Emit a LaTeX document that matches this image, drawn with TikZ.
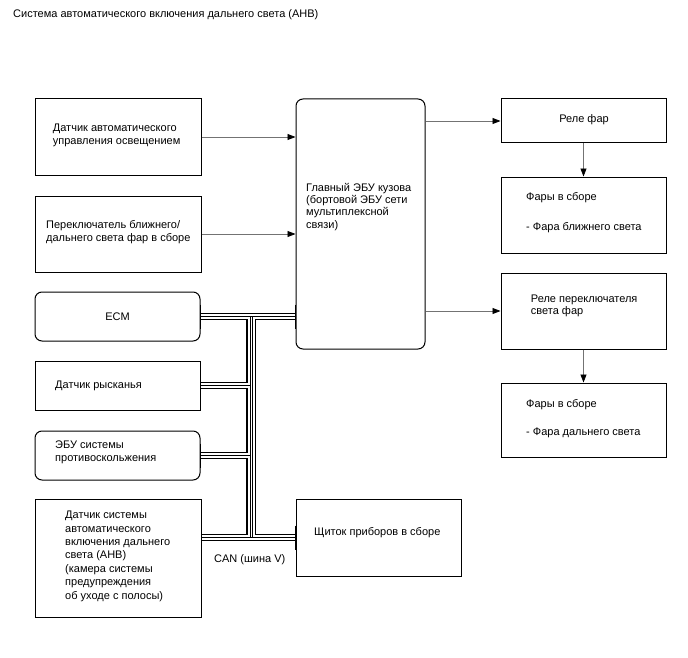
\documentclass[tikz,border=0pt]{standalone}
\usepackage{fontspec}
\setmainfont{Liberation Sans}
\usetikzlibrary{arrows.meta,calc}
\begin{document}
\begin{tikzpicture}[x=1pt,y=-1pt,
  box/.style={draw=black, line width=1pt, inner sep=0pt, fill=white},
  rbox/.style={box, rounded corners=7pt},
  txt/.style={anchor=west, align=left, inner sep=0pt, font=\fontsize{11}{12.5}\selectfont},
  arr/.style={draw=black!55, line width=0.8pt, -{Triangle[length=8pt,width=6pt,color=black]}},
  busout/.style={draw=black, line width=7.5pt},
  busin/.style={draw=white, line width=5pt},
  busmid/.style={draw=black, line width=0.7pt}]
\useasboundingbox (0,0) rectangle (688,658);
\fill[white] (0,0) rectangle (688,658);

% boxes
\node[box, minimum width=166pt, minimum height=76pt] (als) at (118,137) {};
\node[box, minimum width=166pt, minimum height=76pt] (sw) at (118,234) {};
\node[rbox, minimum width=165pt, minimum height=49pt] (ecm) at (117.5,316.5) {};
\node[box, minimum width=165pt, minimum height=49pt] (yaw) at (117.5,385.5) {};
\node[rbox, minimum width=165pt, minimum height=49pt] (vsc) at (117.5,455.5) {};
\node[box, minimum width=166pt, minimum height=118pt] (ahb) at (118,558) {};
\node[rbox, minimum width=129pt, minimum height=250pt] (ecu) at (360.5,224) {};
\node[box, minimum width=165pt, minimum height=77pt] (meter) at (378.5,537.5) {};
\node[box, minimum width=165pt, minimum height=44pt] (hr) at (583.5,121) {};
\node[box, minimum width=165pt, minimum height=76pt] (hl1) at (583.5,215) {};
\node[box, minimum width=165pt, minimum height=76pt] (dr) at (583.5,311) {};
\node[box, minimum width=165pt, minimum height=74pt] (hl2) at (583.5,420) {};

% CAN bus
\coordinate (jl) at (250,0);
\coordinate (jr) at (252,0);
\foreach \st in {busout,busin,busmid}{
  \draw[\st] (ecm.east) -- (ecm.east -| ecu.west);
  \draw[\st] (ecm.east -| jl) -- (meter.west -| jl);
  \draw[\st] (ecm.east -| jr) -- (meter.west -| jr);
  \draw[\st] (yaw.east) -- (yaw.east -| jl);
  \draw[\st] (vsc.east) -- (vsc.east -| jl);
  \draw[\st] (meter.west -| ahb.east) -- (meter.west);
}
% redraw box borders on top of bus
\draw[line width=1pt] ($(ecm.east)+(0,-12)$) -- ($(ecm.east)+(0,12)$);
\draw[line width=1pt] ($(yaw.east)+(0,-12)$) -- ($(yaw.east)+(0,12)$);
\draw[line width=1pt] ($(vsc.east)+(0,-12)$) -- ($(vsc.east)+(0,12)$);
\draw[line width=1pt] ($(meter.west)+(0,-12)$) -- ($(meter.west)+(0,12)$);
\draw[line width=1pt] ($(meter.west -| ahb.east)+(0,-12)$) -- ($(meter.west -| ahb.east)+(0,12)$);
\draw[line width=1pt] ($(ecm.east -| ecu.west)+(0,-12)$) -- ($(ecm.east -| ecu.west)+(0,12)$);

% arrows
\draw[arr] (als.east) -- (als.east -| ecu.west);
\draw[arr] (sw.east) -- (sw.east -| ecu.west);
\draw[arr] (hr.west -| ecu.east) -- (hr.west);
\draw[arr] (dr.west -| ecu.east) -- (dr.west);
\draw[arr] (hr.south) -- (hl1.north);
\draw[arr] (dr.south) -- (hl2.north);

% texts
\node[txt] (t0) at (13,15) {Система автоматического включения дальнего света (AHB)};
\node[txt] (t1) at (52.7,135.3) {Датчик автоматического\\управления освещением};
\node[txt] (t2) at (46,232) {Переключатель ближнего/\\дальнего света фар в сборе};
\node[txt, anchor=center] (t3) at (117.5,316.5) {ECM};
\node[txt] (t4) at (55,386) {Датчик рысканья};
\node[txt] (t5) at (55,452.5) {ЭБУ системы\\противоскольжения};
\node[txt, font=\fontsize{11}{13.4}\selectfont] (t6) at (65,556.3) {Датчик системы\\автоматического\\включения дальнего\\света (AHB)\\(камера системы\\предупреждения\\об уходе с полосы)};
\node[txt] (t7) at (214,560) {CAN (шина V)};
\node[txt] (t8) at (314,533) {Щиток приборов в сборе};
\node[txt, font=\fontsize{11}{12.2}\selectfont] (t9) at (306,206.8) {Главный ЭБУ кузова\\(бортовой ЭБУ сети\\мультиплексной\\связи)};
\node[txt, anchor=center] (t10) at (584,120) {Реле фар};
\node[txt] (t11) at (526,197.3) {Фары в сборе};
\node[txt] (t12) at (526,227.3) {- Фара ближнего света};
\node[txt] (t13) at (530.7,305.8) {Реле переключателя\\света фар};
\node[txt] (t14) at (526,405) {Фары в сборе};
\node[txt] (t15) at (526,433.3) {- Фара дальнего света};
\end{tikzpicture}
\end{document}
